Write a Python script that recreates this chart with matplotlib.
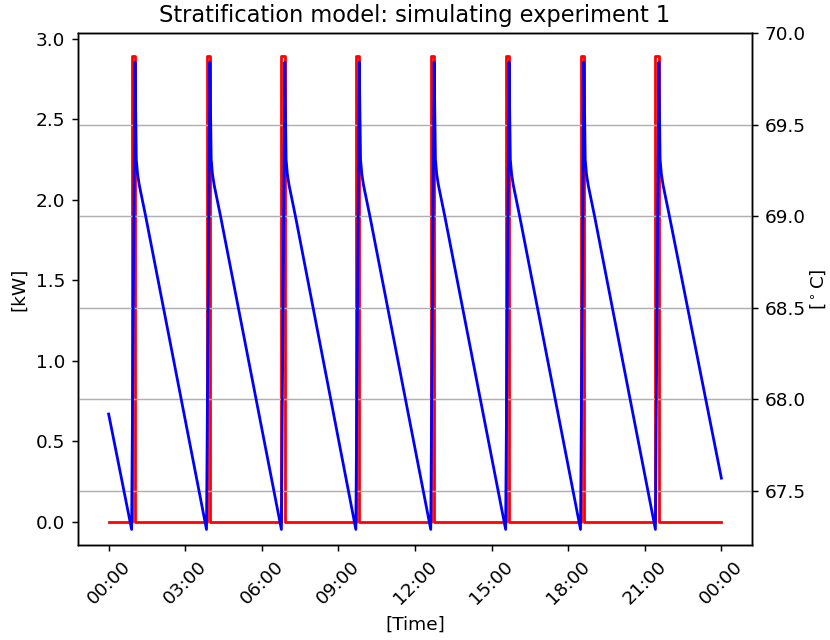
import datetime as dt
import matplotlib
matplotlib.use("Agg")
import matplotlib.pyplot as plt
import matplotlib.dates as mdates

# ---- data ----
pulse_start = ["00:54", "03:50", "06:46", "09:41", "12:37", "15:33", "18:29", "21:25"]
pulse_end   = ["01:02", "03:58", "06:54", "09:49", "12:45", "15:41", "18:37", "21:33"]
pulse_power = 2.89  # kW
day_start = "00:00"
day_end = "24:00"

temp_times = [
    "00:00",
    "00:54", "01:02", "01:05", "01:08", "01:12", "01:27",
    "03:50", "03:58", "04:01", "04:04", "04:08", "04:23",
    "06:46", "06:54", "06:57", "07:00", "07:04", "07:19",
    "09:41", "09:49", "09:52", "09:55", "09:59", "10:14",
    "12:37", "12:45", "12:48", "12:51", "12:55", "13:10",
    "15:33", "15:41", "15:44", "15:47", "15:51", "16:06",
    "18:29", "18:37", "18:40", "18:43", "18:47", "19:02",
    "21:25", "21:33", "21:36", "21:39", "21:43", "21:58",
    "24:00",
]
temps = [
    67.92,
    67.29, 69.84, 69.31, 69.23, 69.17, 69.00,
    67.29, 69.84, 69.31, 69.23, 69.17, 69.00,
    67.29, 69.84, 69.31, 69.23, 69.17, 69.00,
    67.29, 69.84, 69.31, 69.23, 69.17, 69.00,
    67.29, 69.84, 69.31, 69.23, 69.17, 69.00,
    67.29, 69.84, 69.31, 69.23, 69.17, 69.00,
    67.29, 69.84, 69.31, 69.23, 69.17, 69.00,
    67.29, 69.84, 69.31, 69.23, 69.17, 69.00,
    67.57,
]

base = dt.datetime(2000, 1, 1)


def to_dt(s):
    h, m = s.split(":")
    return base + dt.timedelta(hours=int(h), minutes=int(m))


# build step series for power
p_t = [to_dt(day_start)]
p_v = [0.0]
for s, e in zip(pulse_start, pulse_end):
    p_t += [to_dt(s), to_dt(s), to_dt(e), to_dt(e)]
    p_v += [0.0, pulse_power, pulse_power, 0.0]
p_t.append(to_dt(day_end))
p_v.append(0.0)

t_t = [to_dt(s) for s in temp_times]

S = 1.33
plt.rcParams.update({
    "font.size": 10 * S,
    "axes.linewidth": 0.8 * S,
    "xtick.major.size": 3.5 * S,
    "ytick.major.size": 3.5 * S,
    "xtick.major.width": 0.8 * S,
    "ytick.major.width": 0.8 * S,
    "xtick.major.pad": 3.5 * S,
    "ytick.major.pad": 3.5 * S,
    "axes.labelpad": 4 * S,
    "axes.titlepad": 6 * S,
})

fig = plt.figure(figsize=(8.3, 6.4), dpi=100)
ax1 = fig.add_axes([78 / 830, 1 - 545 / 640, (752 - 78) / 830, (545 - 33) / 640])
ax1.plot(p_t, p_v, color="red", lw=1.5 * S)
ax1.set_ylabel("[kW]")
ax1.set_xlabel("[Time]")
ax1.set_title("Stratification model: simulating experiment 1", fontsize=12.2 * S)

ax2 = ax1.twinx()
ax2.plot(t_t, temps, color="blue", lw=1.5 * S)
ax2.set_ylim(67.205, 70.0)
ax2.set_ylabel(r"[$^\circ$C]", labelpad=2)
ax2.grid(True, axis="y", color="#b0b0b0", lw=0.8 * S)
ax2.set_yticks([67.5, 68.0, 68.5, 69.0, 69.5, 70.0])

ax1.xaxis.set_major_locator(mdates.HourLocator(byhour=range(0, 24, 3)))
ax1.xaxis.set_major_formatter(mdates.DateFormatter("%H:%M"))
for lab in ax1.get_xticklabels():
    lab.set_rotation(45)

fig.savefig("out.png", dpi=100)
